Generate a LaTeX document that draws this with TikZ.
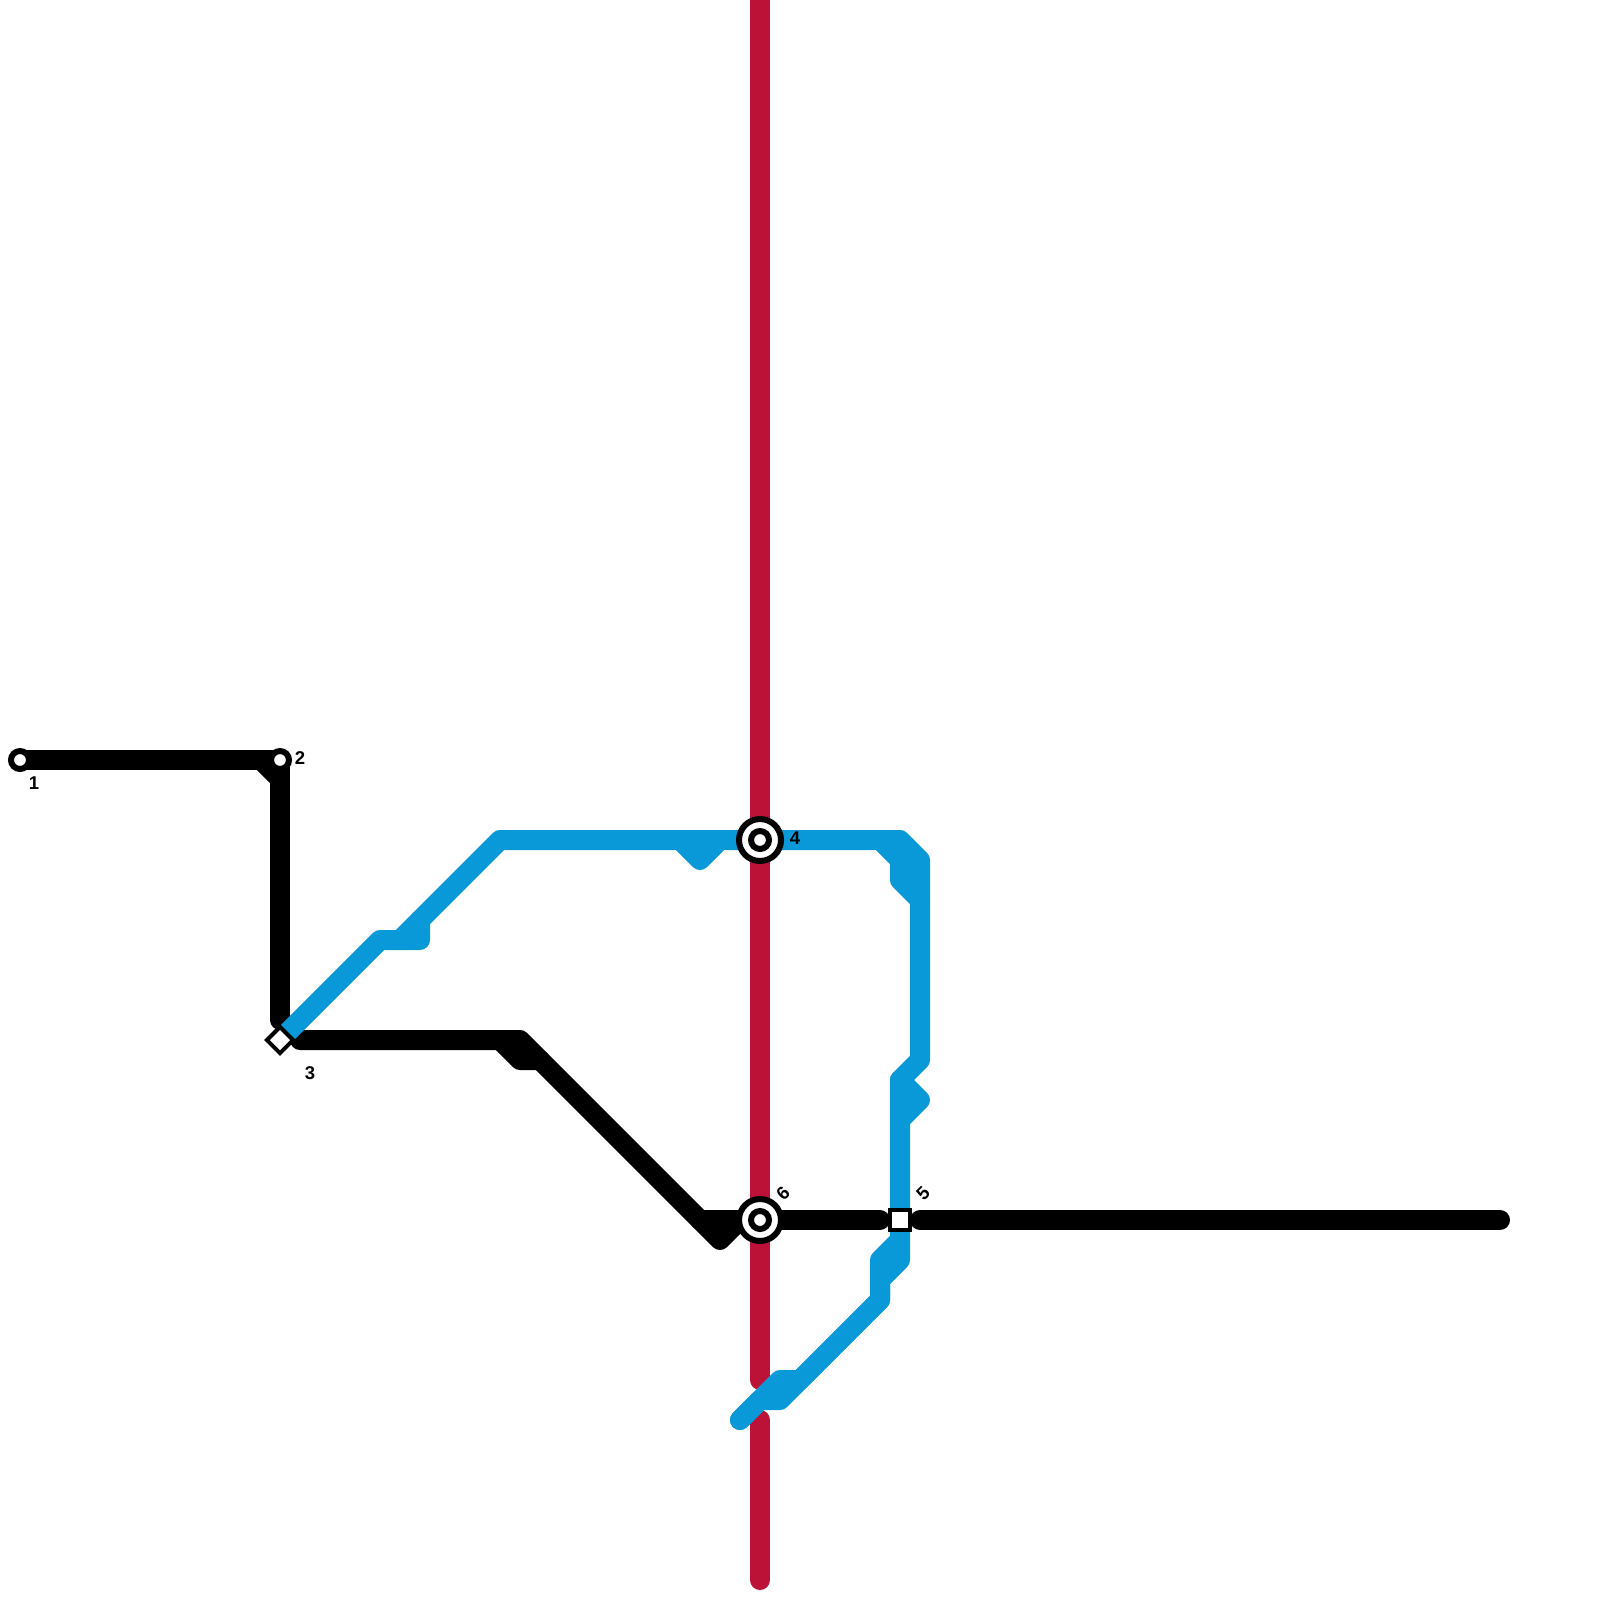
\documentclass[tikz,border=0pt]{standalone}
\usepackage{fontspec}
\setmainfont{Liberation Sans}
\definecolor{lineblue}{HTML}{0998D8}
\definecolor{linered}{HTML}{BC1238}
\tikzset{
  x=1pt,y=-1pt,
  metro/.style={line width=20pt,line cap=round,line join=round},
  redline/.style={metro,draw=linered},
  blackline/.style={metro,draw=black},
  blueline/.style={metro,draw=lineblue},
  stopmark/.style={circle,fill=white,draw=black,line width=6pt,minimum size=18pt,inner sep=0pt,outer sep=0pt},
  interring/.style={circle,fill=white,draw=black,line width=6pt,minimum size=42pt,inner sep=0pt,outer sep=0pt},
  interhub/.style={circle,fill=white,draw=black,line width=6pt,minimum size=18pt,inner sep=0pt,outer sep=0pt},
  boxmark/.style={rectangle,fill=white,draw=black,line width=4pt,minimum size=20pt,inner sep=0pt,outer sep=0pt},
  lozenge/.style={boxmark,rotate=45,minimum size=18.5pt},
  stoplabel/.style={font=\fontsize{18.5}{18.5}\selectfont\bfseries,inner sep=0pt,text=black}
}
\begin{document}
\begin{tikzpicture}
\useasboundingbox (0,0) rectangle (1600,1600);
\fill[white] (0,0) rectangle (1600,1600);
% free ends and bends
\coordinate (s1) at (20,760);
\coordinate (s2) at (280,760);
\coordinate (s3) at (280,1040);
\coordinate (s4) at (760,840);
\coordinate (s5) at (900,1220);
\coordinate (s6) at (760,1220);
% red
\coordinate (ra) at (760,0);
\coordinate (rb) at (760,1380);
\coordinate (rc) at (760,1420);
\coordinate (rd) at (760,1580);
\draw[redline] (ra) -- (rb);
\draw[redline] (rc) -- (rd);
% black
\draw[blackline] (s1) -- (s2) -- (280,1020);
\fill[black] (256,769) -- (272,769) -- (272,785) -- cycle;
\draw[blackline] (300,1040) -- (520,1040) -- (720,1240) -- (740,1220) -- (s6);
\draw[blackline] (500,1040) -- (520,1060) -- (540,1060);
\draw[blackline] (700,1220) -- (s6);
\draw[blackline] (s6) -- (880,1220);
\draw[blackline] (920,1220) -- (1500,1220);
% blue
\draw[blueline,line cap=butt] (s3) -- (380,940) -- (420,940) -- (420,920) -- (500,840) -- (680,840) -- (700,860) -- (720,840) -- (s4);
\draw[blueline] (400,940) -- (420,920);
\draw[blueline] (680,840) -- (720,840);
\draw[blueline] (s4) -- (900,840) -- (920,860) -- (920,1060) -- (900,1080) -- (900,1120);
\draw[blueline] (880,840) -- (900,860) -- (900,880) -- (920,900);
\draw[blueline] (900,1080) -- (920,1100) -- (900,1120) -- (s5) -- (900,1240) -- (880,1260) -- (880,1300) -- (800,1380) -- (780,1380) -- (740,1420);
\draw[blueline] (900,1240) -- (900,1260) -- (880,1280) -- (880,1300) -- (780,1400) -- (760,1400) -- (740,1420);
% stations
\node[stopmark] (n1) at (s1) {};
\node[stopmark] (n2) at (s2) {};
\node[lozenge] (n3) at (s3) {};
\node[interring] (n4o) at (s4) {};
\node[interhub] (n4) at (s4) {};
\node[boxmark] (n5) at (s5) {};
\node[interring] (n6o) at (s6) {};
\node[interhub] (n6) at (s6) {};
% labels
\node[stoplabel] (l1) at (34,783) {1};
\node[stoplabel] (l2) at (300,758) {2};
\node[stoplabel] (l3) at (310,1073) {3};
\node[stoplabel] (l4) at (795,838) {4};
\node[stoplabel,rotate=45] (l5) at (923,1193) {5};
\node[stoplabel,rotate=45] (l6) at (783,1193) {6};
\end{tikzpicture}
\end{document}
